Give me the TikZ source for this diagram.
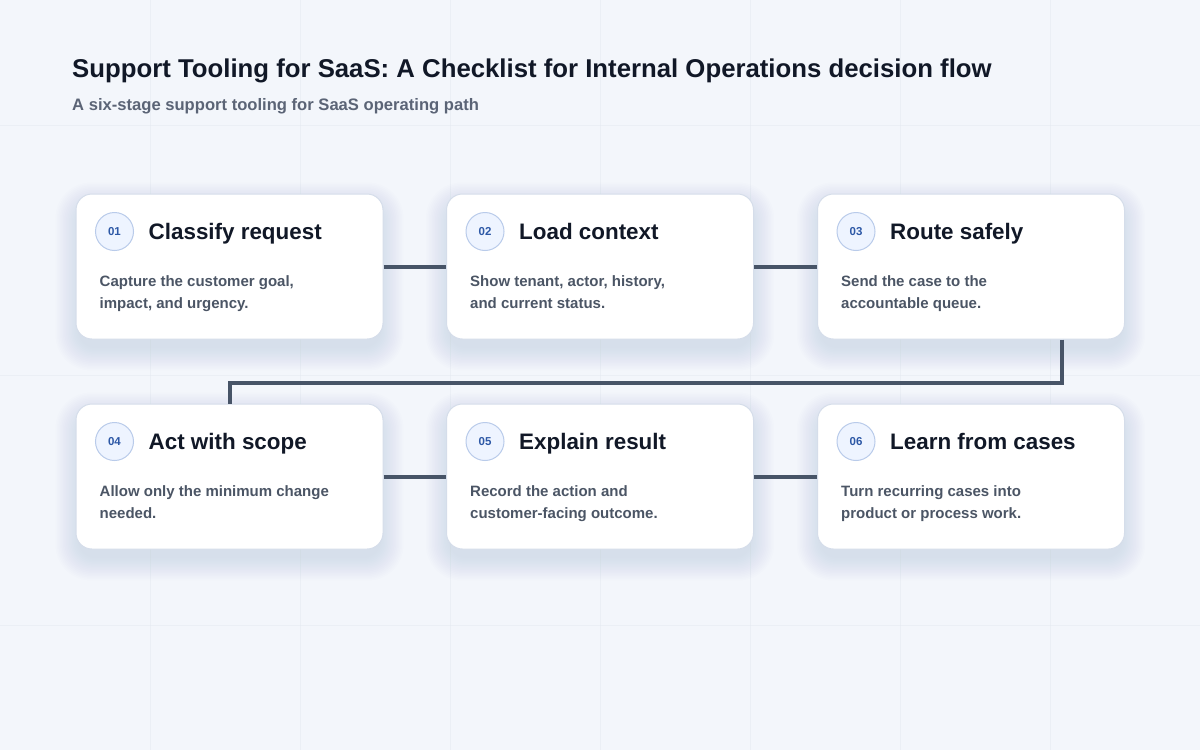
\documentclass[tikz,border=0pt]{standalone}
\usepackage{fontspec}
\setmainfont{Liberation Sans}
\definecolor{bgA}{HTML}{F3F6FB}
\definecolor{gridc}{HTML}{E4E9F1}
\definecolor{cardborder}{HTML}{D5DDEA}
\definecolor{badgefill}{HTML}{EEF4FF}
\definecolor{badgeborder}{HTML}{B9CBEA}
\definecolor{badgetext}{HTML}{2D58A6}
\definecolor{titlec}{HTML}{111827}
\definecolor{bodyc}{HTML}{4B5565}
\definecolor{subc}{HTML}{5B6476}
\definecolor{connc}{HTML}{475467}
\definecolor{shadowc}{HTML}{5A6A8A}
\tikzset{
  cardbox/.style={draw=cardborder, line width=1pt, fill=white, rounded corners=16pt,
    minimum width=307pt, minimum height=145pt, inner sep=0pt},
  badge/.style={circle, draw=badgeborder, line width=1pt, fill=badgefill, minimum size=38pt, inner sep=0pt,
    font=\fontsize{11.5}{13}\selectfont\bfseries, text=badgetext},
  cardtitle/.style={anchor=base west, inner sep=0pt, font=\fontsize{22.4}{26}\selectfont\bfseries, text=titlec},
  cardbody/.style={anchor=base west, inner sep=0pt, font=\fontsize{15}{22}\selectfont\bfseries, text=bodyc},
  conn/.style={draw=connc, line width=4pt},
  gridline/.style={draw=gridc, line width=0.8pt}
}
\newcommand{\stagecard}[7]{%
  \foreach \s in {1,...,16} {
    \fill[shadowc, opacity=0.008, rounded corners=16pt+\s*1.2pt]
      (#2-150-\s*1.5,#3-70-\s*1.5+10) rectangle (#2+150+\s*1.5,#3+70+\s*1.5+10);
  }
  \node[cardbox] (#1) at (#2,#3) {};
  \node[badge] (#1b) at ([xshift=39pt,yshift=-38pt]#1.north west) {#4};
  \node[cardtitle] (#1t) at ([xshift=73pt,yshift=-46pt]#1.north west) {#5};
  \node[cardbody] (#1l1) at ([xshift=24pt,yshift=-93pt]#1.north west) {#6};
  \node[cardbody] (#1l2) at ([xshift=24pt,yshift=-115pt]#1.north west) {#7};
}
\begin{document}
\begin{tikzpicture}[x=1pt,y=-1pt]
\useasboundingbox (0,0) rectangle (1200,750);
\fill[bgA] (0,0) rectangle (1200,750);
\foreach \gx in {150,300,...,1050} { \draw[gridline, opacity=0.5] (\gx,0) -- (\gx,750); }
\foreach \gy in {125,375,625} { \draw[gridline, opacity=0.5] (0,\gy) -- (1200,\gy); }
\node[anchor=base west, inner sep=0pt, font=\fontsize{25.75}{30}\selectfont\bfseries, text=titlec] (title) at (72,77) {Support Tooling for SaaS: A Checklist for Internal Operations decision flow};
\node[anchor=base west, inner sep=0pt, font=\fontsize{16.6}{20}\selectfont\bfseries, text=subc] (subtitle) at (72,110) {A six-stage support tooling for SaaS operating path};
\stagecard{c1}{229.5}{266.5}{01}{Classify request}{Capture the customer goal,}{impact, and urgency.}
\stagecard{c2}{600}{266.5}{02}{Load context}{Show tenant, actor, history,}{and current status.}
\stagecard{c3}{971}{266.5}{03}{Route safely}{Send the case to the}{accountable queue.}
\stagecard{c4}{229.5}{476.5}{04}{Act with scope}{Allow only the minimum change}{needed.}
\stagecard{c5}{600}{476.5}{05}{Explain result}{Record the action and}{customer-facing outcome.}
\stagecard{c6}{971}{476.5}{06}{Learn from cases}{Turn recurring cases into}{product or process work.}
\draw[conn] (c1.east) -- (c2.west);
\draw[conn] (c2.east) -- (c3.west);
\draw[conn] (c4.east) -- (c5.west);
\draw[conn] (c5.east) -- (c6.west);
\coordinate (turn) at ([xshift=91pt,yshift=-43pt]c3.south);
\draw[conn] ([xshift=91pt]c3.south) -- (turn) -| (c4.north);
\end{tikzpicture}
\end{document}
